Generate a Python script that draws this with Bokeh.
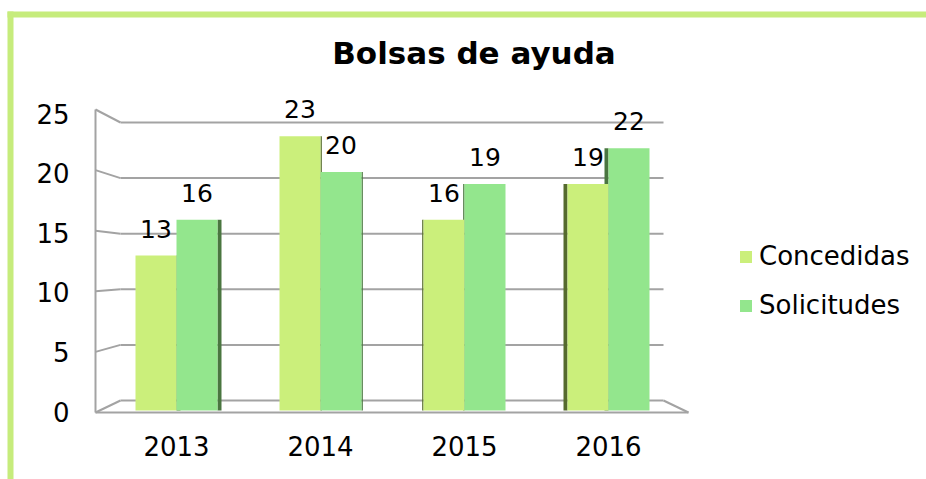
from bokeh.plotting import figure
from bokeh.models import Range1d, Legend, LegendItem, ColumnDataSource
from bokeh.core.properties import value
from bokeh.embed import file_html
from bokeh.resources import INLINE

# ---------------- data ----------------
years = ["2013", "2014", "2015", "2016"]
concedidas = [13, 23, 16, 19]
solicitudes = [16, 20, 19, 22]
y_ticks = [0, 5, 10, 15, 20, 25]
series_names = ["Concedidas", "Solicitudes"]
title_text = "Bolsas de ayuda"

# ---------------- layout helpers ----------------
W, H = 926, 479
PX_X = 144.0      # pixels per category
G0 = 176.0        # pixel x of first category centre
PX_Y = 11.92      # pixels per unit
Y0 = 410.0        # pixel y of value 0


def dx(px):
    return (px - G0) / PX_X


def dy(py):
    return (Y0 - py) / PX_Y


FONT = "DejaVu Sans"
C_CON = "#cbef7b"
C_SOL = "#93e68d"
S_CON = "#566b2e"
S_SOL = "#4a7640"
GRID = "#a3a3a3"
BORDER = "#c6ec7c"

p = figure(width=W, height=H, output_backend="svg", toolbar_location=None,
           x_range=Range1d(dx(0), dx(W)), y_range=Range1d(dy(H), dy(0)),
           min_border=0, x_axis_type=None, y_axis_type=None)
p.outline_line_color = None
p.background_fill_color = "white"
p.border_fill_color = "white"
p.xgrid.visible = False
p.ygrid.visible = False

# green frame border
p.quad(left=[dx(7), dx(7)], right=[dx(13), dx(W + 5)],
       top=[dy(11), dy(11)], bottom=[dy(H + 5), dy(17)],
       fill_color=BORDER, line_color=None)

# title
p.text(x=[dx(473.5)], y=[dy(52)], text=[title_text], text_align="center",
       text_baseline="alphabetic", text_font=value(FONT),
       text_font_size=value("31px"), text_font_style="bold", text_color="black")

# 3D walls / gridlines (derived from tick values)
xf, xb, xr, xfr = dx(95), dx(120), dx(663), dx(688)
sx0, sy0, sx1, sy1 = [], [], [], []
for v in y_ticks:
    yf = dy(412 - 12.12 * v)
    yb = dy(400 - 11.12 * v)
    sx0 += [xf, xb]; sy0 += [yf, yb]
    sx1 += [xb, xr]; sy1 += [yb, yb]
sx0 += [xf, xf, xr]; sy0 += [dy(412 - 12.12 * max(y_ticks)), dy(412), dy(400)]
sx1 += [xf, xfr, xfr]; sy1 += [dy(412), dy(412), dy(412)]
p.segment(x0=sx0, y0=sy0, x1=sx1, y1=sy1, line_color=GRID, line_width=2)

# y tick labels
p.text(x=[dx(69)] * len(y_ticks), y=y_ticks, text=[str(v) for v in y_ticks],
       text_align="right", text_baseline="alphabetic", y_offset=1,
       text_font=value(FONT), text_font_size=value("26px"), text_color="black")

# category labels
idx = list(range(len(years)))
p.text(x=idx, y=[dy(445)] * len(years), text=years, text_align="center",
       text_baseline="alphabetic", text_font=value(FONT),
       text_font_size=value("26px"), text_color="black")

# bars
half = 20.5 / PX_X
xc = [i - half for i in idx]
xs = [i + half for i in idx]

# side faces (perspective): positive -> right side, negative -> left side
side = [(1.5 - i) * (8.0 / 3.0) / PX_X for i in idx]


def side_quads(centres, vals):
    l, r = [], []
    for c, s in zip(centres, side):
        if s > 0:
            l.append(c + half); r.append(c + half + s)
        else:
            l.append(c - half + s); r.append(c - half)
    return dict(left=l, right=r, top=vals, bottom=[0] * len(vals))


p.quad(source=ColumnDataSource(side_quads(xc, concedidas)), fill_color=S_CON,
       line_color=None)
p.quad(source=ColumnDataSource(side_quads(xs, solicitudes)), fill_color=S_SOL,
       line_color=None)

r_c = p.vbar(x=xc, top=concedidas, width=2 * half, bottom=0, fill_color=C_CON,
             line_color=None)
r_s = p.vbar(x=xs, top=solicitudes, width=2 * half, bottom=0, fill_color=C_SOL,
             line_color=None)

# data labels
lab_x = xc + xs
lab_y = concedidas + solicitudes
p.text(x=lab_x, y=lab_y, text=[str(v) for v in lab_y], text_align="center",
       text_baseline="alphabetic", y_offset=-27, text_font=value(FONT),
       text_font_size=value("25px"), text_color="black")

# legend
legend = Legend(items=[LegendItem(label=series_names[0], renderers=[r_c]),
                       LegendItem(label=series_names[1], renderers=[r_s])],
                location=(738, 159), padding=0, margin=0, spacing=19,
                glyph_width=15, glyph_height=15, label_standoff=6,
                label_text_font=FONT, label_text_font_size="26px",
                label_text_color="black",
                label_height=15, border_line_alpha=0, background_fill_alpha=0)
p.add_layout(legend)

open("out.html", "w").write(file_html(p, INLINE))
